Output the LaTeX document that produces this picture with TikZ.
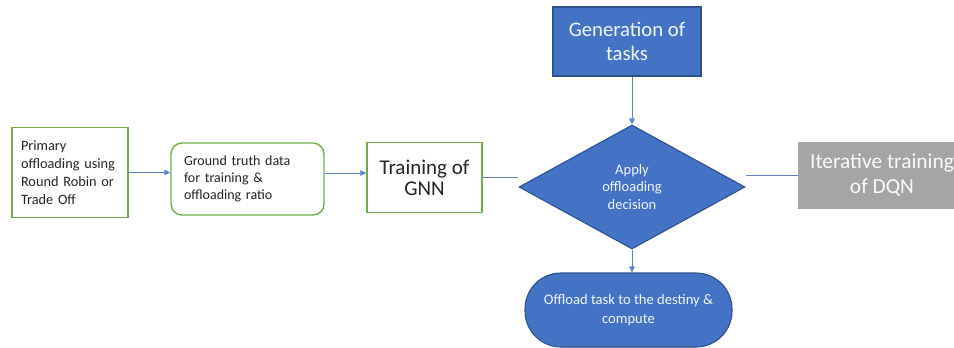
\documentclass[tikz,border=0pt]{standalone}
\usepackage{fontspec}
\setmainfont{Carlito}
\usetikzlibrary{shapes.geometric,arrows.meta,backgrounds}
\definecolor{fillblue}{HTML}{4472C4}
\definecolor{edgeblue}{HTML}{2F528F}
\definecolor{leafgreen}{HTML}{70AD47}
\definecolor{stepgray}{HTML}{A5A5A5}
\definecolor{linkblue}{HTML}{5B84C8}
\definecolor{inktext}{HTML}{262626}
\tikzset{
  greenbox/.style={draw=leafgreen, line width=1.4pt, fill=white, text=inktext, inner sep=0pt},
  bluebox/.style={draw=edgeblue, line width=1.1pt, fill=fillblue, text=white!92!fillblue, inner sep=0pt},
  graybox/.style={fill=stepgray, text=white!94!stepgray, inner sep=0pt},
  link/.style={draw=linkblue, line width=0.9pt, -{Triangle[length=6pt,width=5.5pt]}},
  plainlink/.style={draw=linkblue!85!gray, line width=0.9pt},
}
\begin{document}
\begin{tikzpicture}[x=1pt,y=-1pt]
\useasboundingbox (0,0) rectangle (954,348);
\clip (0,0) rectangle (954,348);

% left chain of green boxes
\node[greenbox, minimum width=116pt, minimum height=90pt, text width=98pt, align=left,
      font=\fontsize{14.3}{17.8}\selectfont] (prim) at (70,172.5) {Primary\\offloading using\\Round Robin or\\Trade Off};
\node[greenbox, rounded corners=11pt, minimum width=153pt, minimum height=72pt, text width=127pt, align=left,
      font=\fontsize{14}{17}\selectfont] (gt) at (247.5,179) {Ground truth data\\for training \&\\offloading ratio};
\node[greenbox, minimum width=115pt, minimum height=70pt, align=center,
      font=\fontsize{21}{21}\selectfont] (gnn) at (424.5,177.5) {Training of\\GNN};

% decision part in blue
\node[bluebox, minimum width=148pt, minimum height=69pt, align=center,
      font=\fontsize{20.7}{24}\selectfont] (gen) at (627,41.5) {Generation of\\tasks};
\node[bluebox, diamond, aspect=1.82, minimum width=226pt, minimum height=124pt, align=center,
      font=\fontsize{14.5}{17.5}\selectfont] (dia) at (632,187) {Apply\\offloading\\decision};
\node[bluebox, rounded corners=36pt, minimum width=207pt, minimum height=74pt, align=center,
      font=\fontsize{14.6}{18.5}\selectfont] (off) at (628.5,310) {Offload task to the destiny \&\\compute};

% grey box on the right
\node[graybox, minimum width=168pt, minimum height=67pt, align=center,
      font=\fontsize{21.4}{25}\selectfont] (dqn) at (882,175.5) {Iterative training\\of DQN};

% connectors
\draw[link] (prim.east) -- (prim.east -| gt.west);
\draw[link] ([yshift=6pt]gt.east) -- ([yshift=6pt]gt.east -| gnn.west);
\draw[link] (gen.south -| dia.north) -- (dia.north);
\draw[link] (dia.south) -- (dia.south |- off.north);
\begin{scope}[on background layer]
  \draw[plainlink] (gnn.east) -- (gnn.east -| dia.west);
  \draw[plainlink] (dqn.west) -- (dqn.west -| dia.east);
\end{scope}
\end{tikzpicture}
\end{document}
